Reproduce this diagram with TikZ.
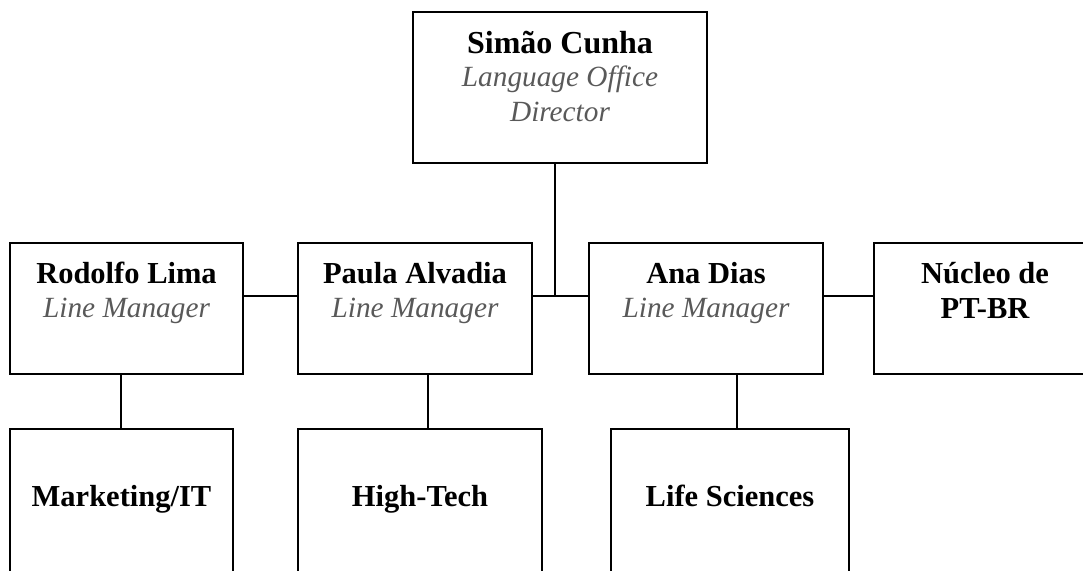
\documentclass[tikz,border=0pt]{standalone}
\usepackage{fontspec}
\setmainfont{Liberation Serif}
\definecolor{subgray}{RGB}{89,89,89}
\begin{document}
\begin{tikzpicture}[x=1pt,y=-1pt,
  box/.style={draw, line width=1.5pt, rectangle, inner sep=0pt, outer sep=0pt, anchor=north west},
  pname/.style={font=\fontsize{30.5}{35}\selectfont\bfseries, anchor=base, inner sep=0pt},
  bigname/.style={pname, font=\fontsize{32}{36}\selectfont\bfseries},
  prole/.style={font=\fontsize{29.3}{35}\selectfont\itshape, text=subgray, anchor=base, inner sep=0pt},
  link/.style={line width=1.5pt}]
\useasboundingbox (0,0) rectangle (1083,570);
\clip (0,0) rectangle (1083,570);
% boxes
\node[box, minimum width=294pt, minimum height=151pt] (top) at (413,12) {};
\node[box, minimum width=233pt, minimum height=131pt] (rod) at (10,243) {};
\node[box, minimum width=234pt, minimum height=131pt] (paula) at (298,243) {};
\node[box, minimum width=234pt, minimum height=131pt] (ana) at (589,243) {};
\node[box, minimum width=222pt, minimum height=131pt] (nuc) at (874,243) {};
\node[box, minimum width=223pt, minimum height=200pt] (mkt) at (10,429) {};
\node[box, minimum width=244pt, minimum height=200pt] (ht) at (298,429) {};
\node[box, minimum width=238pt, minimum height=200pt] (life) at (611,429) {};
% texts
\node[bigname] (topn) at ([yshift=-41pt]top.north) {Simão Cunha};
\node[prole] (topr1) at ([yshift=-74pt]top.north) {Language Office};
\node[prole] (topr2) at ([yshift=-109pt]top.north) {Director};
\node[pname] (rodn) at ([yshift=-40pt]rod.north) {Rodolfo Lima};
\node[prole] (rodr) at ([yshift=-74pt]rod.north) {Line Manager};
\node[pname] (paulan) at ([yshift=-40pt]paula.north) {Paula Alvadia};
\node[prole] (paular) at ([yshift=-74pt]paula.north) {Line Manager};
\node[pname] (anan) at ([yshift=-40pt]ana.north) {Ana Dias};
\node[prole] (anar) at ([yshift=-74pt]ana.north) {Line Manager};
\node[pname] (nucn1) at ([yshift=-40pt]nuc.north) {Núcleo de};
\node[pname] (nucn2) at ([yshift=-75pt]nuc.north) {PT-BR};
\node[pname] (mktn) at ([yshift=-77pt]mkt.north) {Marketing/IT};
\node[pname] (htn) at ([yshift=-77pt]ht.north) {High-Tech};
\node[pname] (lifen) at ([yshift=-77pt]life.north) {Life Sciences};
% connectors
\coordinate (hl) at (0,296);
\coordinate (j) at (555,296);
\coordinate (v1) at (121,0);
\coordinate (v2) at (428,0);
\coordinate (v3) at (737,0);
\draw[link] (top.south -| j) -- (j);
\draw[link] (rod.east |- hl) -- (paula.west |- hl);
\draw[link] (paula.east |- hl) -- (ana.west |- hl);
\draw[link] (ana.east |- hl) -- (nuc.west |- hl);
\draw[link] (rod.south -| v1) -- (mkt.north -| v1);
\draw[link] (paula.south -| v2) -- (ht.north -| v2);
\draw[link] (ana.south -| v3) -- (life.north -| v3);
\end{tikzpicture}
\end{document}
